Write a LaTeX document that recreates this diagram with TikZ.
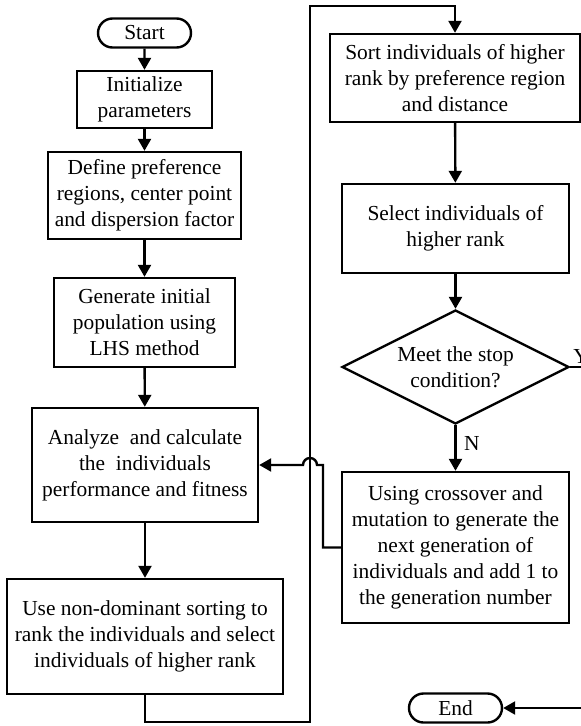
\documentclass[tikz,border=0pt]{standalone}
\usepackage{fontspec}
\setmainfont{Liberation Serif}
\usetikzlibrary{arrows.meta,shapes.geometric,shapes.misc}
\tikzset{
  process/.style={
    % The shape:
    rectangle,
    inner sep=0pt,
    % The border:
    line width=2.4pt,
    draw=black,
    % The text:
    align=center},
  startstop/.style={
    % The shape:
    rounded rectangle,
    minimum width=93pt,
    minimum height=29pt,
    % The rest
    inner sep=0pt,line width=2.4pt,draw=black},
  decision/.style={
    % The shape:
    diamond,
    aspect=2,
    % The rest
    inner sep=0pt,line width=2.4pt,draw=black,align=center},
  flow/.style={line width=2.4pt,-{Triangle[length=12pt,width=13pt]}}
}

\begin{document}
\begin{tikzpicture}[x=1pt,y=-1pt,font=\fontsize{21.4}{26}\selectfont]
  \useasboundingbox (0,0) rectangle (581,726);

  % Left column:
  \node (start)    [startstop] at (144.5,33) {Start};
  \node (init)     [process,minimum width=135pt,minimum height=57pt] at (144.5,99.5)
    {Initialize\\parameters};
  \node (define)   [process,minimum width=193pt,minimum height=87pt] at (144.5,195.5)
    {Define preference\\regions, center point\\and dispersion factor};
  \node (generate) [process,minimum width=181pt,minimum height=89pt] at (144.5,322.5)
    {Generate initial\\population using\\LHS method};
  \node (analyze)  [process,minimum width=226pt,minimum height=114pt] at (145,465)
    {Analyze\ \ and calculate\\the\ \ individuals\\performance and fitness};
  \node (rank)     [process,minimum width=276pt,minimum height=115pt] at (145,636.5)
    {Use non-dominant sorting to\\rank the individuals and select\\individuals of higher rank};

  % Right column:
  \node (sort)     [process,minimum width=250pt,minimum height=88pt] at (455,78)
    {Sort individuals of higher\\rank by preference region\\and distance};
  \node (select)   [process,minimum width=227pt,minimum height=89pt] at (455.5,228.5)
    {Select individuals of\\higher rank};
  \node (stop)     [decision,minimum width=227pt,minimum height=114pt] at (455.5,367)
    {Meet the stop\\condition?};
  \node (crossover)[process,minimum width=227pt,minimum height=151pt] at (455.5,547.5)
    {Using crossover and\\mutation to generate the\\next generation of\\individuals and add 1 to\\the generation number};
  \node (end)      [startstop] at (455.5,708) {End};

  \coordinate (loopA) at (310,722);
  \coordinate (loopB) at (310,6);
  \coordinate (back)  at (323,465);
  \coordinate (yesA)  at (584,367);
  \coordinate (yesB)  at (584,708);

  \draw[flow] (start) -- (init);
  \draw[flow] (init) -- (define);
  \draw[flow] (define) -- (generate);
  \draw[flow] (generate) -- (analyze);
  \draw[flow] (analyze) -- (rank);
  \draw[flow] (rank.south) |- (loopA) -- (loopB) -| (sort.north);
  \draw[flow] (sort) -- (select);
  \draw[flow] (select) -- (stop);
  \draw[flow] (stop) -- node[anchor=west,xshift=4pt,pos=0.4] {N} (crossover);
  \draw[flow] (crossover.west) -| (back) -- (317,465)
    arc[start angle=0,end angle=-180,radius=7] -- (analyze.east);
  \draw[flow] (stop.east) node[anchor=south west,inner sep=0pt,xshift=2pt,yshift=2pt] {Y}
    -- (yesA) -- (yesB) -- (end.east);
\end{tikzpicture}
\end{document}
